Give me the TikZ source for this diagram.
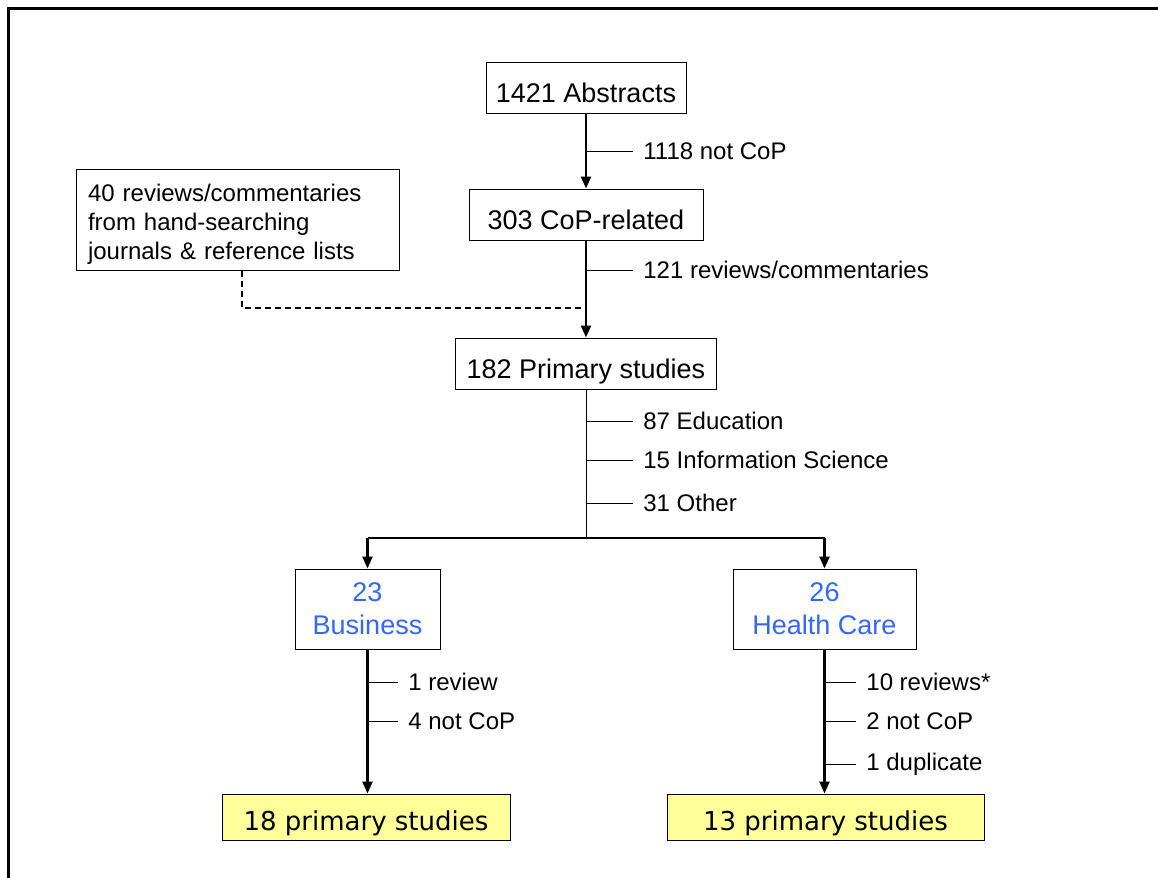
\documentclass[tikz,border=0pt]{standalone}
\usepackage{fontspec}
\setmainfont{Liberation Sans}
\newfontfamily\resfont{DejaVu Sans}
\usetikzlibrary{arrows.meta}
\definecolor{catblue}{RGB}{51,102,255}
\definecolor{resyellow}{RGB}{255,255,153}
\tikzset{
  box/.style={draw, line width=0.5pt, minimum height=25.5pt, inner sep=2pt, text height=14.5pt, text depth=0pt, font=\fontsize{13.5}{16.5}\selectfont},
  catbox/.style={draw, line width=0.5pt, minimum height=40pt, inner sep=2pt, align=center, text=catblue, font=\fontsize{13.5}{16.5}\selectfont},
  resbox/.style={draw, line width=0.5pt, fill=resyellow, minimum height=23pt, inner sep=2pt, text height=13pt, text depth=0pt, font=\resfont\fontsize{13}{15}\selectfont},
  lbl/.style={anchor=west, inner sep=5pt, font=\fontsize{12}{14}\selectfont},
  flow/.style={line width=1.2pt, -{Triangle[length=6pt,width=5pt]}},
  tick/.style={line width=0.5pt},
}
\begin{document}
\begin{tikzpicture}[x=0.5pt, y=-0.5pt]
    \useasboundingbox (0,0) rectangle (1158,878);
    % Frame
    \draw[line width=1.5pt] (8,878) -- (8,8) -- (1158,8);

    % Main chain
    \node[box, minimum width=100pt] (abs) at (586,88) {1421 Abstracts};
    \node[box, minimum width=117pt] (cop) at (586,214.5) {303 CoP-related};
    \node[box, minimum width=130.5pt] (prim) at (586,363.5) {182 Primary studies};
    \node[draw, line width=0.5pt, minimum height=50pt, text width=149.5pt, inner xsep=6pt,
          align=left, font=\fontsize{12}{14.5}\selectfont] (hand) at (237.5,220)
          {\rule{0pt}{12.6pt}40 reviews/commentaries\\from hand-searching\\journals \& reference lists};

    \draw[flow] (abs) -- (cop);
    \draw[flow] (cop) -- (prim);
    \draw[line width=0.8pt, dash pattern=on 3pt off 2pt] (hand.south -| 242,0) |- (583,308);

    % Exclusions
    \node[lbl] (ex1) at (633,151) {1118 not CoP};
    \node[lbl] (ex2) at (633,270) {121 reviews/commentaries};
    \draw[tick] (ex1.west -| abs.south) -- (ex1.west);
    \draw[tick] (ex2.west -| abs.south) -- (ex2.west);

    % Split by field
    \coordinate (split) at (586,538);
    \draw[line width=0.5pt] (prim) -- (split);
    \node[lbl] (edu) at (633,421) {87 Education};
    \node[lbl] (inf) at (633,460) {15 Information Science};
    \node[lbl] (oth) at (633,503) {31 Other};
    \foreach \n in {edu,inf,oth}
        \draw[tick] (\n.west -| prim.south) -- (\n.west);

    \node[catbox, minimum width=72.5pt] (bus) at (367.5,609) {23\\Business};
    \node[catbox, minimum width=91.5pt] (hc) at (824.5,609) {26\\Health Care};
    \draw[line width=1.2pt] (bus.north |- split) -- (hc.north |- split);
    \draw[flow] (bus.north |- split) -- (bus);
    \draw[flow] (hc.north |- split) -- (hc);

    % Results
    \node[resbox, minimum width=144pt] (rbus) at (366,817) {18 primary studies};
    \node[resbox, minimum width=158.5pt] (rhc) at (825.5,817) {13 primary studies};
    \draw[flow] (bus) -- (bus.south |- rbus.north);
    \draw[flow] (hc) -- (hc.south |- rhc.north);

    \node[lbl] (b1) at (398,682) {1 review};
    \node[lbl] (b2) at (398,721) {4 not CoP};
    \node[lbl] (h1) at (856,682) {10 reviews*};
    \node[lbl] (h2) at (856,721) {2 not CoP};
    \node[lbl] (h3) at (856,764) {1 duplicate};
    \foreach \n in {b1,b2}
        \draw[tick] (\n.west -| bus.south) -- (\n.west);
    \foreach \n in {h1,h2,h3}
        \draw[tick] (\n.west -| hc.south) -- (\n.west);
\end{tikzpicture}
\end{document}
